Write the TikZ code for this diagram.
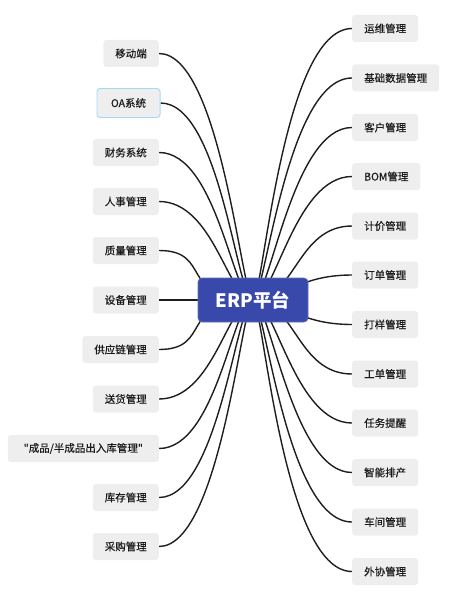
\documentclass[tikz,border=0pt]{standalone}
\usepackage{fontspec}
\newfontfamily\cjk{Noto Sans CJK SC}
\newfontfamily\cjkm{Noto Sans CJK SC}[FakeBold=0.35]
\usetikzlibrary{backgrounds}
\definecolor{boxgray}{HTML}{EEEEEE}
\definecolor{rootblue}{HTML}{3949AB}
\definecolor{oablue}{HTML}{A3D8F8}
\definecolor{linec}{HTML}{1E1E1E}
\definecolor{txt}{HTML}{1A1A1A}
\begin{document}
\begin{tikzpicture}[x=1pt,y=-1pt,
  leaf/.style={fill=boxgray, rounded corners=3pt, minimum height=27pt, inner xsep=12pt, inner ysep=0pt, font=\cjkm\fontsize{10.5}{12}\selectfont, text=txt},
  lleaf/.style={leaf, anchor=east},
  rleaf/.style={leaf, anchor=west},
  rootbox/.style={fill=rootblue, draw=rootblue!80!white, line width=0.6pt, rounded corners=4pt, minimum width=110pt, minimum height=44pt, text=white, inner sep=0pt, font=\cjk\bfseries\fontsize{18.5}{20}\selectfont},
  conn/.style={draw=linec, line width=1.4pt}]
\useasboundingbox (0,0) rectangle (451,599);
% root
\node[rootbox] (root) at (253,300) {ERP平台};
% left nodes
\node[lleaf] (L1) at (159,53.5) {移动端};
\node[lleaf, draw=oablue, line width=0.9pt, inner xsep=14pt, minimum height=29pt] (L2) at (160.5,103) {OA系统};
\node[lleaf] (L3) at (159,152.5) {财务系统};
\node[lleaf] (L4) at (159,201.5) {人事管理};
\node[lleaf] (L5) at (159,250.5) {质量管理};
\node[lleaf] (L6) at (159,300) {设备管理};
\node[lleaf] (L7) at (159,349.5) {供应链管理};
\node[lleaf] (L8) at (159,399) {送货管理};
\node[lleaf, minimum width=151pt] (L9) at (159,448.5) {"成品/半成品出入库管理"};
\node[lleaf] (L10) at (159,497.5) {库存管理};
\node[lleaf] (L11) at (159,546.5) {采购管理};
% right nodes
\node[rleaf] (R1) at (352,28.5) {运维管理};
\node[rleaf] (R2) at (352,78) {基础数据管理};
\node[rleaf] (R3) at (352,127.5) {客户管理};
\node[rleaf] (R4) at (352,176.5) {BOM管理};
\node[rleaf] (R5) at (352,226) {计价管理};
\node[rleaf] (R6) at (352,275) {订单管理};
\node[rleaf] (R7) at (352,324.5) {打样管理};
\node[rleaf] (R8) at (352,374) {工单管理};
\node[rleaf] (R9) at (352,423) {任务提醒};
\node[rleaf] (R10) at (352,472.5) {智能排产};
\node[rleaf] (R11) at (352,522) {车间管理};
\node[rleaf] (R12) at (352,571.5) {外协管理};
% connectors
\begin{scope}[on background layer]
\draw[conn] (L1.east) .. controls +(62,0) and +(-11,0) .. (root.center);
\draw[conn] (L2.east) .. controls +(60,0) and +(-16,0) .. (root.center);
\draw[conn] (L3.east) .. controls +(58,0) and +(-20,0) .. (root.center);
\draw[conn] (L4.east) .. controls +(55,0) and +(-25,0) .. (root.center);
\draw[conn] (L5.east) .. controls +(54,0) and +(-75,0) .. (root.center);
\draw[conn] (L6.east) -- (root.center);
\draw[conn] (L7.east) .. controls +(54,0) and +(-75,0) .. (root.center);
\draw[conn] (L8.east) .. controls +(55,0) and +(-25,0) .. (root.center);
\draw[conn] (L9.east) .. controls +(58,0) and +(-20,0) .. (root.center);
\draw[conn] (L10.east) .. controls +(60,0) and +(-16,0) .. (root.center);
\draw[conn] (L11.east) .. controls +(62,0) and +(-11,0) .. (root.center);
\draw[conn] (R1.west) .. controls +(-70,0) and +(10,0) .. (root.center);
\draw[conn] (R2.west) .. controls +(-66,0) and +(12,0) .. (root.center);
\draw[conn] (R3.west) .. controls +(-60,0) and +(17,0) .. (root.center);
\draw[conn] (R4.west) .. controls +(-57,0) and +(22,0) .. (root.center);
\draw[conn] (R5.west) .. controls +(-55,0) and +(42,0) .. (root.center);
\draw[conn] (R6.west) .. controls +(-55,0) and +(30,0) .. (root.center);
\draw[conn] (R7.west) .. controls +(-55,0) and +(30,0) .. (root.center);
\draw[conn] (R8.west) .. controls +(-55,0) and +(42,0) .. (root.center);
\draw[conn] (R9.west) .. controls +(-57,0) and +(22,0) .. (root.center);
\draw[conn] (R10.west) .. controls +(-60,0) and +(17,0) .. (root.center);
\draw[conn] (R11.west) .. controls +(-66,0) and +(12,0) .. (root.center);
\draw[conn] (R12.west) .. controls +(-70,0) and +(10,0) .. (root.center);
\end{scope}
\end{tikzpicture}
\end{document}
